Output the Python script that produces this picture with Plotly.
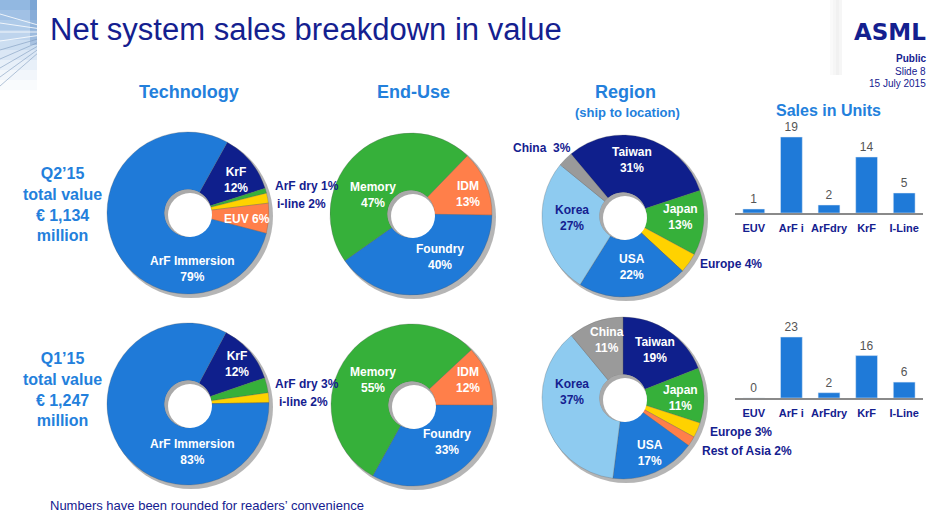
import plotly.graph_objects as go

W, H = 940, 528

# ---------------- data ----------------
tech_labels = ["KrF", "ArF dry", "i-line", "EUV", "ArF Immersion"]
tech_q2 = [12, 1, 2, 6, 79]
tech_q1 = [12, 3, 2, 0, 83]

enduse_labels = ["IDM", "Foundry", "Memory"]
enduse_q2 = [13, 40, 47]
enduse_q1 = [12, 33, 55]

region_labels = ["Taiwan", "Japan", "Europe", "Rest of Asia", "USA", "Korea", "China"]
region_q2 = [31, 13, 4, 0, 22, 27, 3]
region_q1 = [19, 11, 3, 2, 17, 37, 11]

unit_cats = ["EUV", "ArF i", "ArFdry", "KrF", "I-Line"]
units_q2 = [1, 19, 2, 14, 5]
units_q1 = [0, 23, 2, 16, 6]

quarters = ["Q2\u201915", "Q1\u201915"]
totals = ["1,134", "1,247"]

# ---------------- styles ----------------
NAVY = "#0f1f8c"
BLUE = "#1f7ad8"
GREEN = "#36b03a"
ORANGE = "#ff7f4a"
YELLOW = "#ffd200"
LBLUE = "#8ecbf0"
GREY = "#9a9a9a"
HEAD = "#2380dc"
TXT = "#14208f"
FONT = "Liberation Sans, Arial, sans-serif"

tech_colors = [NAVY, GREEN, YELLOW, ORANGE, BLUE]
enduse_colors = [ORANGE, BLUE, GREEN]
region_colors = [NAVY, GREEN, YELLOW, ORANGE, BLUE, LBLUE, GREY]


def px(x):
    return x / W


def py(y):
    return 1 - y / H


fig = go.Figure()
shapes = []
annotations = []

# decorative corner (top-left): fading blue with light rays
band_alpha = [0.75, 0.65, 0.55, 0.45, 0.35, 0.25, 0.16, 0.09, 0.04]
for k, a in enumerate(band_alpha):
    shapes.append(dict(type="rect", xref="paper", yref="paper", layer="below",
                       x0=px(0), x1=px(37), y0=py(10 * k + 10), y1=py(10 * k),
                       fillcolor=f"rgba(110,160,215,{a})", line=dict(width=0)))
shapes.append(dict(type="rect", xref="paper", yref="paper", layer="below",
                   x0=px(30), x1=px(37), y0=py(45), y1=py(0),
                   fillcolor="rgba(60,110,180,0.25)", line=dict(width=0)))
for k in range(9):
    yl = 14 + k * 9
    yr = yl + (32 - yl) * 37 / 62
    col = "rgba(255,255,255,0.8)" if yl < 50 else "rgba(120,150,185,0.55)"
    shapes.append(dict(type="line", xref="paper", yref="paper", layer="below",
                       x0=px(0), y0=py(yl), x1=px(37), y1=py(yr),
                       line=dict(color=col, width=1)))
# subtle header shade near logo
for k, a in enumerate([0.05, 0.09, 0.13, 0.09]):
    shapes.append(dict(type="rect", xref="paper", yref="paper", layer="below",
                       x0=px(830 + 3 * k), x1=px(833 + 3 * k), y0=py(75), y1=py(0),
                       fillcolor=f"rgba(150,150,150,{a})", line=dict(width=0)))

R = 81
HOLE = 0.29

pies = [
    # labels, values, colors, center, rotation
    (tech_labels, tech_q2, tech_colors, (188, 213), 29),
    (tech_labels, tech_q1, tech_colors, (188, 404), 28),
    (enduse_labels, enduse_q2, enduse_colors, (411, 214), 44),
    (enduse_labels, enduse_q1, enduse_colors, (412, 405), 47),
    (region_labels, region_q2, region_colors, (623, 216), -40),
    (region_labels, region_q1, region_colors, (623, 398), 0),
]

for labels, vals, cols, (cx, cy), rot in pies:
    fig.add_trace(go.Pie(
        labels=labels, values=vals, sort=False, direction="clockwise",
        rotation=rot, hole=HOLE, textinfo="none", showlegend=False,
        marker=dict(colors=cols, line=dict(color="rgba(90,90,90,0.35)", width=0.8)),
        domain=dict(x=[px(cx - R), px(cx + R)], y=[py(cy + R), py(cy - R)]),
    ))
    # outer drop shadow
    shapes.append(dict(type="circle", xref="paper", yref="paper", layer="below",
                       x0=px(cx - R + 2), x1=px(cx + R + 4), y0=py(cy + R + 4), y1=py(cy - R + 2),
                       fillcolor="rgba(120,120,120,0.55)", line=dict(width=0)))
    # hole inner shadow
    rh = R * HOLE
    shapes.append(dict(type="circle", xref="paper", yref="paper", layer="above",
                       x0=px(cx - rh), x1=px(cx + rh), y0=py(cy + rh), y1=py(cy - rh),
                       fillcolor="#a9a9a9", line=dict(width=0)))
    shapes.append(dict(type="circle", xref="paper", yref="paper", layer="above",
                       x0=px(cx - rh + 3.5), x1=px(cx + rh + 0.5), y0=py(cy + rh + 0.5), y1=py(cy - rh + 3.5),
                       fillcolor="white", line=dict(width=0)))

# ---------------- bar charts ----------------
fig.add_trace(go.Bar(x=unit_cats, y=units_q2, xaxis="x", yaxis="y",
                     marker=dict(color=BLUE), text=units_q2, textposition="outside",
                     textfont=dict(color="#555555", size=12, family=FONT),
                     cliponaxis=False, showlegend=False))
fig.add_trace(go.Bar(x=unit_cats, y=units_q1, xaxis="x2", yaxis="y2",
                     marker=dict(color=BLUE), text=units_q1, textposition="outside",
                     textfont=dict(color="#555555", size=12, family=FONT),
                     cliponaxis=False, showlegend=False))

xax = dict(showline=True, linecolor="#8a8a8a", linewidth=2, ticks="", showgrid=False,
           tickfont=dict(color=TXT, size=11, family=FONT, weight="bold"), fixedrange=True,
           domain=[px(735), px(923)], ticklabelstandoff=4)

# ---------------- text ----------------
def ann(x, y, text, color=TXT, size=12, bold=True, xanchor="center", family=FONT):
    annotations.append(dict(x=px(x), y=py(y), xref="paper", yref="paper", text=text,
                            showarrow=False, xanchor=xanchor, yanchor="middle",
                            font=dict(color=color, size=size, family=family,
                                      weight="bold" if bold else "normal"), align="center"))


def pct(labels, vals, name):
    return f"{vals[labels.index(name)]}%"


WH = "white"
# tech Q2
ann(236, 180, "KrF<br>" + pct(tech_labels, tech_q2, "KrF"), WH)
ann(273, 186, "ArF dry " + pct(tech_labels, tech_q2, "ArF dry"), xanchor="left")
ann(275, 204, "i-line " + pct(tech_labels, tech_q2, "i-line"), xanchor="left")
ann(247, 219, "EUV " + pct(tech_labels, tech_q2, "EUV"), WH)
ann(192, 269, "ArF Immersion<br>" + pct(tech_labels, tech_q2, "ArF Immersion"), WH)
# tech Q1
ann(237, 364, "KrF<br>" + pct(tech_labels, tech_q1, "KrF"), WH)
ann(273, 384, "ArF dry " + pct(tech_labels, tech_q1, "ArF dry"), xanchor="left")
ann(277, 402, "i-line " + pct(tech_labels, tech_q1, "i-line"), xanchor="left")
ann(192, 452, "ArF Immersion<br>" + pct(tech_labels, tech_q1, "ArF Immersion"), WH)
# end-use Q2
ann(373, 195, "Memory<br>" + pct(enduse_labels, enduse_q2, "Memory"), WH)
ann(468, 194, "IDM<br>" + pct(enduse_labels, enduse_q2, "IDM"), WH)
ann(440, 257, "Foundry<br>" + pct(enduse_labels, enduse_q2, "Foundry"), WH)
# end-use Q1
ann(373, 380, "Memory<br>" + pct(enduse_labels, enduse_q1, "Memory"), WH)
ann(468, 380, "IDM<br>" + pct(enduse_labels, enduse_q1, "IDM"), WH)
ann(447, 442, "Foundry<br>" + pct(enduse_labels, enduse_q1, "Foundry"), WH)
# region Q2
ann(573, 148, "China  " + pct(region_labels, region_q2, "China"), xanchor="right")
ann(632, 160, "Taiwan<br>" + pct(region_labels, region_q2, "Taiwan"), WH)
ann(680, 217, "Japan<br>" + pct(region_labels, region_q2, "Japan"), WH)
ann(698, 264, "Europe " + pct(region_labels, region_q2, "Europe"), xanchor="left")
ann(632, 267, "USA<br>" + pct(region_labels, region_q2, "USA"), WH)
ann(572, 218, "Korea<br>" + pct(region_labels, region_q2, "Korea"), TXT)
# region Q1
ann(607, 340, "China<br>" + pct(region_labels, region_q1, "China"), WH)
ann(655, 350, "Taiwan<br>" + pct(region_labels, region_q1, "Taiwan"), WH)
ann(680, 398, "Japan<br>" + pct(region_labels, region_q1, "Japan"), WH)
ann(708, 432, "Europe " + pct(region_labels, region_q1, "Europe"), xanchor="left")
ann(700, 451, "Rest of Asia " + pct(region_labels, region_q1, "Rest of Asia"), xanchor="left")
ann(650, 453, "USA<br>" + pct(region_labels, region_q1, "USA"), WH)
ann(572, 392, "Korea<br>" + pct(region_labels, region_q1, "Korea"), TXT)

# headings
ann(48, 30, "Net system sales breakdown in value", TXT, 31, False, "left")
ann(890, 32, "ASML", TXT, 23, True, family="DejaVu Sans, sans-serif")
ann(928, 58, "Public", TXT, 10, True, "right")
ann(928, 71, "Slide 8", TXT, 10, False, "right")
ann(928, 83, "15 July 2015", TXT, 10, False, "right")
ann(189, 92, "Technology", HEAD, 18)
ann(413, 92, "End-Use", HEAD, 18)
ann(625, 92, "Region", HEAD, 18)
ann(627, 112, "(ship to location)", HEAD, 13)
ann(828, 110, "Sales in Units", HEAD, 16)
for i, (q, t) in enumerate(zip(quarters, totals)):
    y0 = 204 if i == 0 else 389
    ann(62, y0, f"{q}<br>total value<br>\u20ac {t}<br>million", HEAD, 16)
ann(48, 505, "Numbers have been rounded for readers\u2019 convenience", TXT, 13, False, "left")

fig.update_layout(
    width=W, height=H, margin=dict(l=0, r=0, t=0, b=0),
    paper_bgcolor="white", plot_bgcolor="rgba(0,0,0,0)",
    font=dict(family=FONT),
    bargap=0.42,
    xaxis=dict(xax, anchor="y"),
    yaxis=dict(domain=[py(213), py(125)], range=[0, 22], visible=False, fixedrange=True),
    xaxis2=dict(xax, anchor="y2"),
    yaxis2=dict(domain=[py(398), py(310)], range=[0, 33.2], visible=False, fixedrange=True),
    shapes=shapes, annotations=annotations,
)

fig.write_html("out.html", post_script="document.body.style.margin='0';document.body.style.overflow='hidden';",
               config={"displayModeBar": False})
